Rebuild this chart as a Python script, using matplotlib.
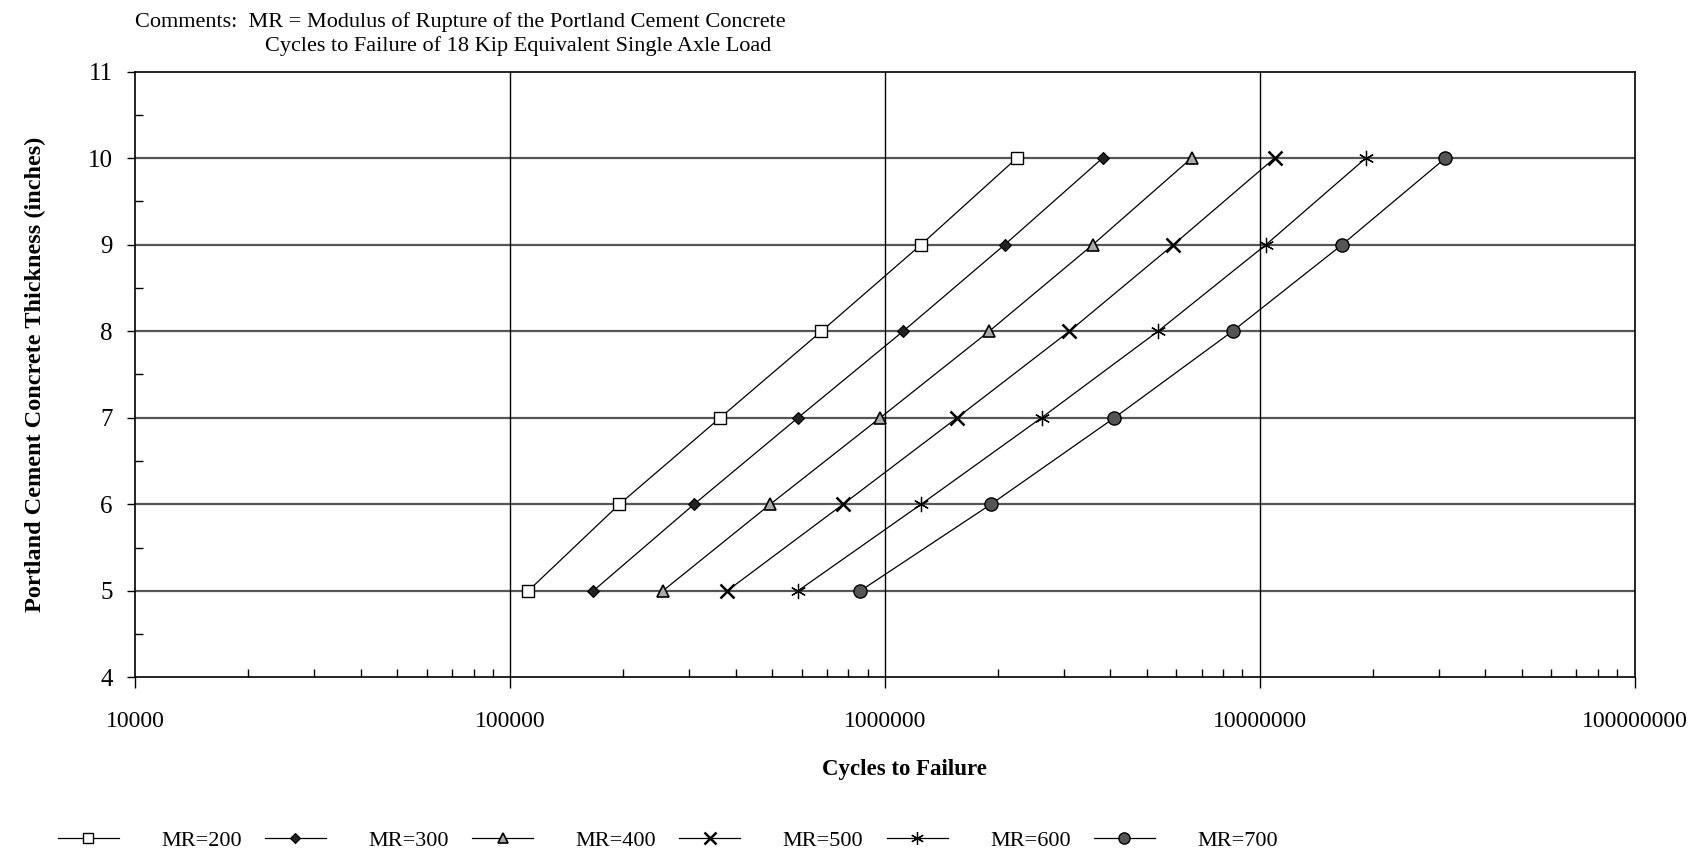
import numpy as np
import matplotlib
matplotlib.use("Agg")
import matplotlib.pyplot as plt
from matplotlib.ticker import FixedLocator, FuncFormatter, MultipleLocator

# ---- data: cycles to failure per slab thickness ----
thickness = [5, 6, 7, 8, 9, 10]
mr_200 = [112000, 196000, 364000, 678000, 1250000, 2250000]
mr_300 = [167000, 310000, 587000, 1120000, 2090000, 3810000]
mr_400 = [256000, 495000, 973000, 1900000, 3590000, 6580000]
mr_500 = [380000, 774000, 1560000, 3110000, 5890000, 10960000]
mr_600 = [587000, 1250000, 2620000, 5360000, 10400000, 19200000]
mr_700 = [861000, 1920000, 4100000, 8470000, 16600000, 31300000]
series_labels = ["MR=200", "MR=300", "MR=400", "MR=500", "MR=600", "MR=700"]

plt.rcParams['font.family'] = ['Liberation Serif', 'DejaVu Serif']

fig = plt.figure(figsize=(17.08, 8.52), dpi=100)
ax = fig.add_axes([0.079, 0.205, 0.878, 0.711])

# marker styles for each MR curve
styles = [
    dict(marker='s', mfc='white', mec='black', ms=8.5, mew=1.0),
    dict(marker='D', mfc='#222222', mec='black', ms=6.5, mew=0.8),
    dict(marker='^', mfc='#aaaaaa', mec='black', ms=8.5, mew=1.2),
    dict(marker='x', color='black', ms=10, mew=1.8),
    dict(marker=(6, 2, 0), color='black', ms=11, mew=0.9),
    dict(marker='o', mfc='#555555', mec='black', ms=9.5, mew=1.0),
]
all_series = [mr_200, mr_300, mr_400, mr_500, mr_600, mr_700]
for vals, lab, st in zip(all_series, series_labels, styles):
    kw = dict(st)
    kw.setdefault('color', 'black')
    ax.plot(vals, thickness, '-', lw=0.9, label=lab, **kw, zorder=3)

ax.set_xscale('log')
ax.set_xlim(1e4, 1e8)
ax.set_ylim(4, 11)

# grid: dark gray horizontal lines, thin black decade lines
for yv in range(5, 11):
    ax.axhline(yv, color='#555555', lw=1.6, zorder=1)
for xv in [1e5, 1e6, 1e7]:
    ax.axvline(xv, color='black', lw=1.0, zorder=1)

for sp in ax.spines.values():
    sp.set_linewidth(1.2)
    sp.set_color('black')

ax.xaxis.set_major_locator(FixedLocator([1e4, 1e5, 1e6, 1e7, 1e8]))
ax.xaxis.set_major_formatter(FuncFormatter(lambda v, p: "%d" % round(v)))
ax.xaxis.set_minor_locator(FixedLocator(
    [m * 10 ** d for d in range(4, 8) for m in range(2, 10)]))
ax.xaxis.set_minor_formatter(FuncFormatter(lambda v, p: ""))
ax.yaxis.set_major_locator(MultipleLocator(1))
ax.yaxis.set_minor_locator(MultipleLocator(0.5))

ax.tick_params(axis='x', which='major', direction='out', length=8, width=1.0,
               pad=16, labelsize=17)
ax.tick_params(axis='x', which='minor', direction='in', length=6, width=1.0)
ax.tick_params(axis='y', which='major', direction='out', length=6, width=1.0,
               pad=10, labelsize=18)
ax.tick_params(axis='y', which='minor', direction='in', length=6, width=1.0)

ax.set_xlabel("Cycles to Failure", fontsize=16.5, fontweight='bold')
ax.xaxis.set_label_coords(0.513, -0.135)
ax.set_ylabel("Portland Cement Concrete Thickness (inches)", fontsize=17.5,
              fontweight='bold', labelpad=30)

# comment lines above the plot
fig.text(0.079, 0.974, "Comments:  MR = Modulus of Rupture of the Portland Cement Concrete",
         fontsize=16, ha='left', va='center')
fig.text(0.155, 0.946, "Cycles to Failure of 18 Kip Equivalent Single Axle Load",
         fontsize=16, ha='left', va='center')

fig.legend(loc='lower left', bbox_to_anchor=(0.022, -0.022), ncol=6, frameon=False,
           fontsize=16, handlelength=2.75, columnspacing=1.05, handletextpad=1.9,
           markerscale=0.85)

fig.savefig("out.png", dpi=100)
